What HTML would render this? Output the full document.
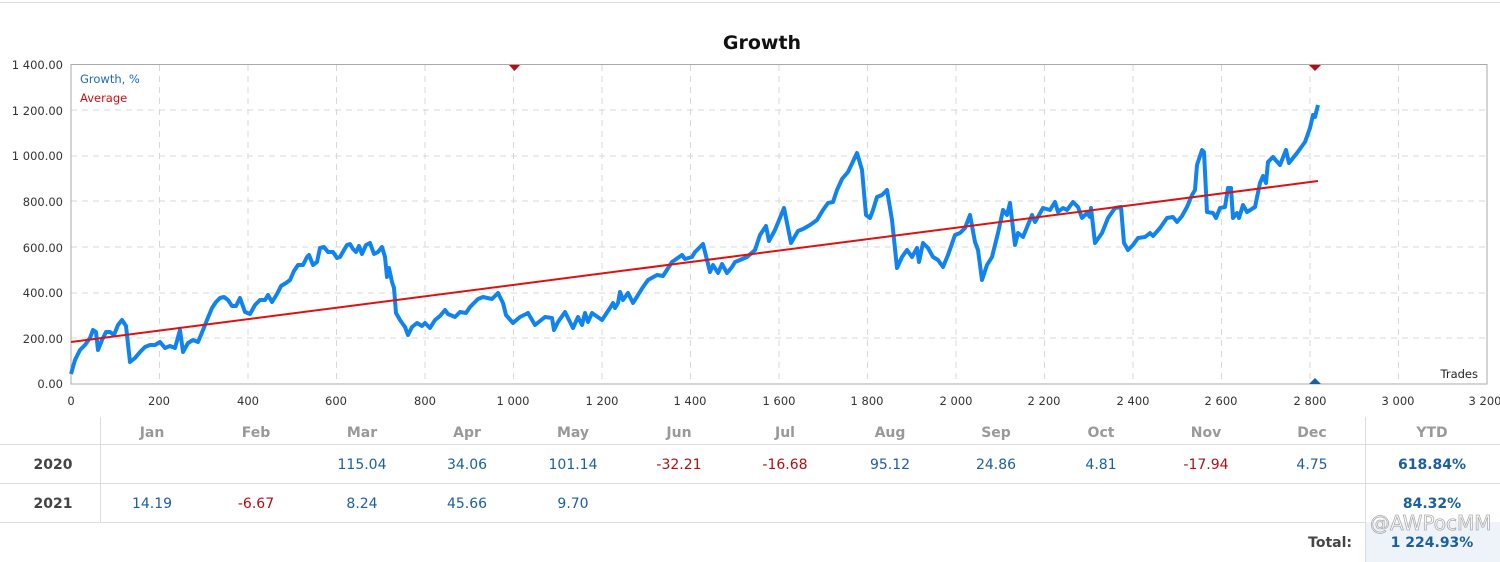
<!DOCTYPE html>
<html><head><meta charset="utf-8"><style>
body{margin:0;width:1500px;height:562px;background:#fff;overflow:hidden;font-family:"Liberation Sans","DejaVu Sans",sans-serif;}
</style></head><body>
<svg width="1500" height="562" xmlns="http://www.w3.org/2000/svg" style="position:absolute;left:0;top:0;font-family:'DejaVu Sans','Liberation Sans',sans-serif">
<line x1="0" y1="2.5" x2="1500" y2="2.5" stroke="#ddd"/>
<text x="762" y="49" font-size="19" font-weight="bold" text-anchor="middle" fill="#111">Growth</text>
<g stroke="#d8d8d8" stroke-dasharray="6,5" stroke-width="1">
<line x1="71" y1="110" x2="1487" y2="110"/><line x1="71" y1="156" x2="1487" y2="156"/><line x1="71" y1="201" x2="1487" y2="201"/><line x1="71" y1="247" x2="1487" y2="247"/><line x1="71" y1="293" x2="1487" y2="293"/><line x1="71" y1="338" x2="1487" y2="338"/>
<line x1="159.5" y1="65" x2="159.5" y2="384"/><line x1="248" y1="65" x2="248" y2="384"/><line x1="336.5" y1="65" x2="336.5" y2="384"/><line x1="425" y1="65" x2="425" y2="384"/><line x1="513.5" y1="65" x2="513.5" y2="384"/><line x1="602" y1="65" x2="602" y2="384"/><line x1="690.5" y1="65" x2="690.5" y2="384"/><line x1="779" y1="65" x2="779" y2="384"/><line x1="867.5" y1="65" x2="867.5" y2="384"/><line x1="956" y1="65" x2="956" y2="384"/><line x1="1044.5" y1="65" x2="1044.5" y2="384"/><line x1="1133" y1="65" x2="1133" y2="384"/><line x1="1221.5" y1="65" x2="1221.5" y2="384"/><line x1="1310" y1="65" x2="1310" y2="384"/><line x1="1398.5" y1="65" x2="1398.5" y2="384"/>
</g>
<rect x="71" y="64.5" width="1416" height="319.5" fill="none" stroke="#aaa"/>
<g font-size="11.5" fill="#333" text-anchor="end">
<text x="63" y="69">1 400.00</text><text x="63" y="115">1 200.00</text><text x="63" y="160">1 000.00</text><text x="63" y="206">800.00</text><text x="63" y="252">600.00</text><text x="63" y="297">400.00</text><text x="63" y="343">200.00</text><text x="63" y="388">0.00</text>
</g>
<g font-size="11.5" fill="#333" text-anchor="middle">
<text x="71" y="405">0</text><text x="159" y="405">200</text><text x="248" y="405">400</text><text x="336" y="405">600</text><text x="425" y="405">800</text><text x="513" y="405">1 000</text><text x="602" y="405">1 200</text><text x="690" y="405">1 400</text><text x="779" y="405">1 600</text><text x="867" y="405">1 800</text><text x="956" y="405">2 000</text><text x="1044" y="405">2 200</text><text x="1133" y="405">2 400</text><text x="1221" y="405">2 600</text><text x="1310" y="405">2 800</text><text x="1398" y="405">3 000</text><text x="1485" y="405">3 200</text>
</g>
<text x="1478" y="378" font-size="11.5" fill="#222" text-anchor="end">Trades</text>
<text x="80" y="83" font-size="11.5" fill="#1a6bb5">Growth, %</text>
<text x="80" y="102" font-size="11.5" fill="#d01010">Average</text>
<polygon points="509,65 520,65 514.5,71" fill="#b01010"/>
<polygon points="1309,65 1321,65 1315,71" fill="#b01010"/>
<polygon points="1309,384 1321,384 1315,378" fill="#1a5f9e"/>
<polyline fill="none" stroke="#1083ee" stroke-width="4" stroke-linejoin="round" points="71,374 75,360 80,350 85,345 90,338 93,330 96,332 98,350 102,340 106,332 110,332 114,335 118,325 122,320 126,326 130,362 135,358 140,352 145,347 150,345 155,345 160,342 165,348 170,346 175,348 180,330 183,352 188,343 193,340 198,342 203,330 207,320 212,308 216,302 220,298 224,297 228,300 232,306 236,306 240,298 245,312 250,314 255,305 260,300 265,300 268,295 272,302 277,294 281,286 286,283 290,280 294,271 298,265 303,265 307,257 309,255 313,265 317,262 320,248 324,247 328,252 333,252 337,258 340,257 344,250 347,245 350,244 353,249 356,252 359,246 362,254 366,245 370,243 374,254 378,252 382,247 385,257 387,277 389,268 392,282 394,288 396,313 400,320 405,327 408,335 412,327 417,323 422,326 425,323 430,328 435,320 440,316 445,310 448,314 455,317 460,312 466,313 470,307 478,299 483,297 492,299 498,293 503,303 506,315 513,323 520,317 528,313 535,325 545,317 552,318 554,330 558,322 565,312 573,328 578,317 582,325 585,313 588,322 592,313 602,320 610,308 613,303 615,308 618,303 620,292 623,300 628,293 633,303 643,287 648,280 657,275 663,276 672,262 682,255 685,259 692,257 695,252 703,244 710,272 713,265 718,273 722,264 727,273 732,267 735,262 740,260 747,257 755,250 760,235 766,226 769,241 775,230 784,208 791,243 798,231 803,229 810,225 817,220 823,210 828,203 833,202 837,190 842,179 848,172 857,153 862,170 866,215 870,218 873,210 877,197 882,195 885,192 887,190 892,220 897,268 902,257 907,250 912,257 917,248 919,262 923,243 928,248 933,257 938,260 943,267 948,255 955,235 960,233 965,228 970,215 975,242 978,250 982,280 987,265 992,257 998,233 1003,210 1007,215 1010,203 1015,245 1018,233 1023,237 1032,215 1035,222 1043,208 1050,210 1055,202 1058,212 1063,208 1067,210 1073,202 1078,207 1082,218 1087,213 1090,217 1091,208 1095,243 1102,233 1108,218 1115,208 1121,207 1124,243 1128,250 1133,245 1138,238 1145,237 1150,233 1153,236 1160,228 1167,218 1173,217 1177,222 1182,216 1187,207 1192,195 1195,190 1197,165 1202,150 1204,152 1207,212 1213,213 1216,218 1220,208 1225,207 1228,188 1231,188 1233,218 1237,213 1239,218 1243,205 1247,212 1255,207 1260,183 1263,176 1266,183 1268,162 1273,157 1280,165 1286,150 1289,163 1297,153 1305,142 1310,128 1313,115 1315,117 1318,105"/>
<line x1="71" y1="342" x2="1318" y2="181" stroke="#e01010" stroke-width="2"/>
<rect x="1365" y="522" width="135" height="40" fill="#eef3fa"/>
<g stroke="#ddd" stroke-width="1">
<line x1="0" y1="444.5" x2="1500" y2="444.5"/><line x1="0" y1="483.5" x2="1500" y2="483.5"/><line x1="0" y1="522.5" x2="1365" y2="522.5"/>
<line x1="100.5" y1="417" x2="100.5" y2="522"/><line x1="1365.5" y1="417" x2="1365.5" y2="562"/>
</g>
<g font-size="14" fill="#999" font-weight="bold" text-anchor="middle">
<text x="152" y="437">Jan</text><text x="256" y="437">Feb</text><text x="362" y="437">Mar</text><text x="467" y="437">Apr</text><text x="573" y="437">May</text><text x="679" y="437">Jun</text><text x="785" y="437">Jul</text><text x="890" y="437">Aug</text><text x="996" y="437">Sep</text><text x="1101" y="437">Oct</text><text x="1206" y="437">Nov</text><text x="1312" y="437">Dec</text><text x="1432" y="437">YTD</text>
</g>
<g font-size="14" font-weight="bold" fill="#444" text-anchor="middle"><text x="53" y="469">2020</text><text x="53" y="508">2021</text></g>
<g font-size="14" text-anchor="middle" fill="#1a5f9e">
<text x="362" y="469">115.04</text><text x="467" y="469">34.06</text><text x="573" y="469">101.14</text><text x="679" y="469" fill="#b01010">-32.21</text><text x="785" y="469" fill="#b01010">-16.68</text><text x="890" y="469">95.12</text><text x="996" y="469">24.86</text><text x="1101" y="469">4.81</text><text x="1206" y="469" fill="#b01010">-17.94</text><text x="1312" y="469">4.75</text>
<text x="152" y="508">14.19</text><text x="256" y="508" fill="#b01010">-6.67</text><text x="362" y="508">8.24</text><text x="467" y="508">45.66</text><text x="573" y="508">9.70</text>
<g font-weight="bold"><text x="1432" y="469">618.84%</text><text x="1432" y="508">84.32%</text><text x="1432" y="547">1 224.93%</text></g>
</g>
<text x="1352" y="547" font-size="14" font-weight="bold" fill="#444" text-anchor="end">Total:</text>
<text x="1370" y="530" font-size="20" fill="#fff" stroke="#999" stroke-width="0.8" opacity="0.8">@AWPocMM</text>
</svg>
</body></html>
